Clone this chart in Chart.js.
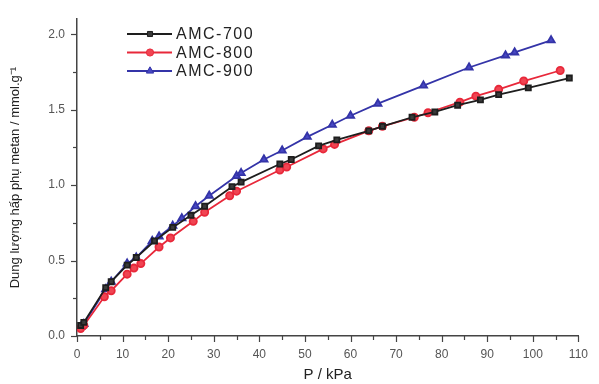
<!DOCTYPE html>
<html>
<head>
<meta charset="utf-8">
<script src="https://cdn.jsdelivr.net/npm/chart.js@4.4.1/dist/chart.umd.min.js"></script>
<style>
  html, body { margin: 0; padding: 0; background: #fff; }
  #wrap { width: 599px; height: 384px; }
</style>
</head>
<body>
<div id="wrap"><canvas id="chart" width="599" height="384"></canvas></div>
<script>
// === dữ liệu ===
const seriesNames = ['AMC-700', 'AMC-800', 'AMC-900'];

const p700 = [0.8, 1.5, 6.3, 7.5, 11, 13, 17, 21, 25, 28, 34, 36, 44.5, 47, 53, 57, 64, 67, 73.5, 78.5, 83.5, 88.5, 92.5, 99, 108];
const q700 = [0.07, 0.09, 0.32, 0.36, 0.47, 0.52, 0.63, 0.72, 0.80, 0.86, 0.99, 1.02, 1.14, 1.17, 1.26, 1.30, 1.36, 1.39, 1.45, 1.485, 1.53, 1.565, 1.60, 1.645, 1.71];

const p800 = [0.8, 1.5, 6, 7.5, 11, 12.5, 14, 18, 20.5, 25.5, 28, 33.5, 35, 44.5, 46, 54, 56.5, 64, 67, 74, 77, 84, 87.5, 92.5, 98, 106];
const q800 = [0.05, 0.07, 0.26, 0.30, 0.41, 0.45, 0.48, 0.59, 0.65, 0.76, 0.82, 0.93, 0.96, 1.10, 1.12, 1.24, 1.27, 1.36, 1.39, 1.45, 1.48, 1.55, 1.59, 1.635, 1.69, 1.76];

const p900 = [0.8, 1.5, 6.3, 7.5, 11, 13, 16.5, 18, 21, 23, 26, 29, 35, 36, 41, 45, 50.5, 56, 60, 66, 76, 86, 94, 96, 104];
const q900 = [0.06, 0.08, 0.31, 0.36, 0.48, 0.52, 0.63, 0.66, 0.73, 0.78, 0.86, 0.93, 1.06, 1.08, 1.17, 1.23, 1.32, 1.40, 1.46, 1.54, 1.66, 1.78, 1.86, 1.88, 1.96];

const xTicks = [0, 10, 20, 30, 40, 50, 60, 70, 80, 90, 100, 110];
const yTicks = [0.0, 0.5, 1.0, 1.5, 2.0];

function toPoints(xs, ys) {
  return xs.map((x, i) => ({ x: x, y: ys[i] }));
}

// vạch chia chính + phụ, hướng ra ngoài trục
const tickMarks = {
  id: 'tickMarks',
  afterDraw(chart) {
    const ctx = chart.ctx;
    const xs = chart.scales.x, ys = chart.scales.y;
    const a = chart.chartArea;
    ctx.save();
    ctx.strokeStyle = '#444';
    ctx.lineWidth = 1.2;
    for (let v = 0; v <= 2.0001; v += 0.25) {
      const y = Math.round(ys.getPixelForValue(v)) + 0.5;
      const len = Math.abs((v / 0.5) - Math.round(v / 0.5)) < 1e-6 ? 6 : 4;
      ctx.beginPath(); ctx.moveTo(a.left - len, y); ctx.lineTo(a.left, y); ctx.stroke();
    }
    for (let v = 0; v <= 110.001; v += 5) {
      const x = Math.round(xs.getPixelForValue(v)) + 0.5;
      const len = v % 10 === 0 ? 6 : 4;
      ctx.beginPath(); ctx.moveTo(x, a.bottom); ctx.lineTo(x, a.bottom + len); ctx.stroke();
    }
    ctx.restore();
  }
};

// chú thích: đoạn thẳng + ký hiệu điểm
const lineLegend = {
  id: 'lineLegend',
  afterDraw(chart) {
    const c = chart.ctx;
    c.save();
    chart.data.datasets.forEach((ds, i) => {
      const y = 34 + i * 18.5;
      c.strokeStyle = ds.borderColor;
      c.lineWidth = 2;
      c.beginPath(); c.moveTo(127, y); c.lineTo(172, y); c.stroke();
      c.fillStyle = ds.pointBackgroundColor;
      c.strokeStyle = ds.pointBorderColor;
      c.lineWidth = 1;
      Chart.helpers.drawPoint(c, { pointStyle: ds.pointStyle, radius: ds.pointRadius, rotation: 0, borderWidth: 1 }, 150, y);
      c.fillStyle = '#222';
      c.font = '16px "Liberation Sans", Arial, sans-serif';
      c.letterSpacing = '1.5px';
      c.textBaseline = 'middle';
      c.textAlign = 'left';
      c.fillText(ds.label, 176, y + 1);
    });
    c.restore();
  }
};

const ctx = document.getElementById('chart').getContext('2d');
new Chart(ctx, {
  type: 'line',
  data: {
    datasets: [
      {
        label: seriesNames[0],
        data: toPoints(p700, q700),
        borderColor: '#1e1e1e',
        backgroundColor: '#3a3a3a',
        pointBackgroundColor: '#3a3a3a',
        pointBorderColor: '#1e1e1e',
        pointStyle: 'rect',
        pointRadius: 3.6,
        borderWidth: 1.8,
        tension: 0
      },
      {
        label: seriesNames[1],
        data: toPoints(p800, q800),
        borderColor: '#e8283a',
        backgroundColor: '#f04452',
        pointBackgroundColor: '#f04452',
        pointBorderColor: '#e8283a',
        pointStyle: 'circle',
        pointRadius: 3.6,
        borderWidth: 1.8,
        tension: 0
      },
      {
        label: seriesNames[2],
        data: toPoints(p900, q900),
        borderColor: '#3434a8',
        backgroundColor: '#4848c4',
        pointBackgroundColor: '#4848c4',
        pointBorderColor: '#3434a8',
        pointStyle: 'triangle',
        pointRadius: 4.2,
        borderWidth: 1.8,
        tension: 0
      }
    ]
  },
  options: {
    responsive: false,
    animation: false,
    layout: { padding: { top: 13, right: 12, left: 0, bottom: 0 } },
    plugins: {
      legend: { display: false },
      tooltip: { enabled: false }
    },
    scales: {
      x: {
        type: 'linear',
        min: 0,
        max: 110,
        afterBuildTicks: (s) => { s.ticks = xTicks.map(v => ({ value: v })); },
        afterFit: (s) => { s.height = 48; },
        grid: { display: false, drawTicks: false },
        border: { display: true, color: '#444', width: 1.5 },
        ticks: {
          padding: 11,
          color: '#555',
          font: { family: '"Liberation Sans", Arial, sans-serif', size: 12 },
          maxRotation: 0,
          callback: (v) => String(v)
        },
        title: {
          display: true,
          text: 'P / kPa',
          color: '#222',
          font: { family: '"Liberation Sans", Arial, sans-serif', size: 15 },
          padding: { top: 6, bottom: 0 }
        }
      },
      y: {
        type: 'linear',
        min: 0,
        max: 2.1,
        afterBuildTicks: (s) => { s.ticks = yTicks.map(v => ({ value: v })); },
        afterFit: (s) => { s.width = 77; },
        grid: { display: false, drawTicks: false },
        border: { display: true, color: '#444', width: 1.5 },
        ticks: {
          padding: 12,
          color: '#555',
          font: { family: '"Liberation Sans", Arial, sans-serif', size: 12 },
          callback: (v) => v.toFixed(1)
        },
        title: {
          display: true,
          text: 'Dung lượng hấp phụ metan / mmol.g⁻¹',
          color: '#222',
          font: { family: '"Liberation Sans", Arial, sans-serif', size: 13 },
          padding: { top: 8, bottom: 0 }
        }
      }
    }
  },
  plugins: [tickMarks, lineLegend]
});
</script>
</body>
</html>
